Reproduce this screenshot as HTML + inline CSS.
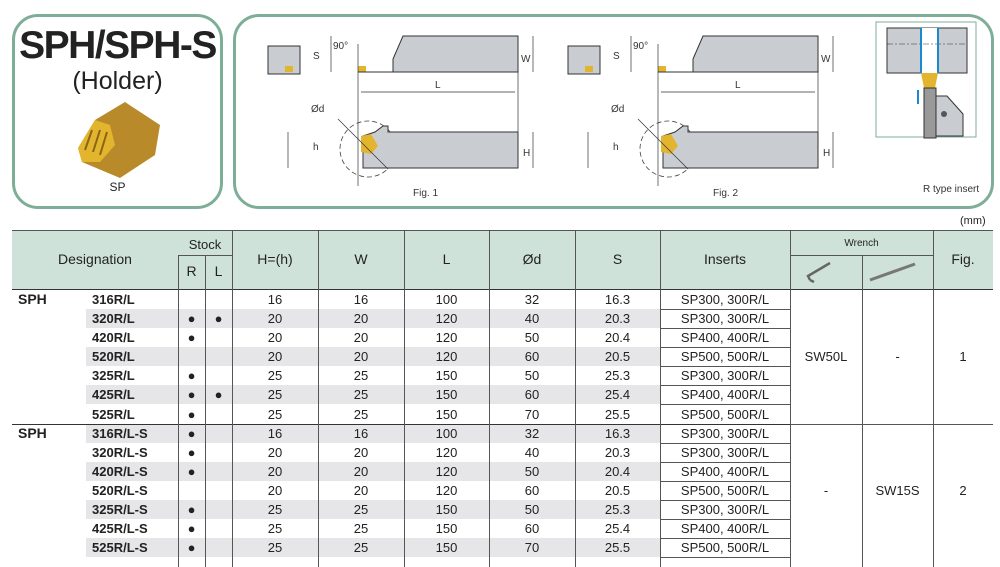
<!DOCTYPE html>
<html><head><meta charset="utf-8"><style>
*{margin:0;padding:0;box-sizing:border-box}
body{width:1000px;height:567px;background:#fff;position:relative;overflow:hidden;font-family:"Liberation Sans",Arial,sans-serif;color:#222}
.a{position:absolute}
.box{position:absolute;border:3px solid #7fae98;border-radius:26px}
.hd{position:absolute;background:#cfe2d9}
.c{position:absolute;text-align:center;font-size:13px;line-height:19px;white-space:nowrap}
.vl{position:absolute;width:1px;background:#555}
.hl{position:absolute;height:1px;background:#555}
.g{position:absolute;background:#e6e6e8;height:19px}
.d{font-weight:bold;font-size:14px}
</style></head><body>
<div class="box" style="left:12px;top:14px;width:211px;height:195px"></div>
<div class="a" style="left:12px;top:23px;width:211px;text-align:center;font-size:39px;font-weight:bold;letter-spacing:-1.5px;line-height:46px;white-space:nowrap">SPH/SPH-S</div>
<div class="a" style="left:12px;top:66px;width:211px;text-align:center;font-size:25px;line-height:30px">(Holder)</div>
<svg class="a" style="left:70px;top:100px" width="100" height="80">
<polygon points="8,48 25,20 55,2 90,25 85,55 50,78 12,62" fill="#b88a2a"/>
<polygon points="8,48 25,20 40,25 45,45 30,62 12,62" fill="#e3b52e"/>
<line x1="22" y1="30" x2="15" y2="50" stroke="#8a6515" stroke-width="2"/>
<line x1="30" y1="30" x2="23" y2="52" stroke="#8a6515" stroke-width="2"/>
<line x1="37" y1="32" x2="30" y2="55" stroke="#8a6515" stroke-width="2"/>
</svg>
<div class="a" style="left:12px;top:180px;width:211px;text-align:center;font-size:12px">SP</div>
<div class="box" style="left:233px;top:14px;width:761px;height:195px"></div>
<svg class="a" style="left:233px;top:14px" width="761" height="195" font-family="Liberation Sans" font-size="10" fill="#333">
<g id="f1">
<rect x="35" y="32" width="32" height="28" fill="#c9ccd1" stroke="#333"/><rect x="52" y="52" width="8" height="6" fill="#e3b52e"/>
<polygon points="160,58 160,45 170,22 285,22 285,58" fill="#c9ccd1" stroke="#333"/>
<rect x="125" y="52" width="8" height="6" fill="#e3b52e"/>
<line x1="125" y1="58" x2="160" y2="58" stroke="#333"/>
<line x1="125" y1="30" x2="125" y2="172" stroke="#333" stroke-width="0.7"/>
<line x1="285" y1="58" x2="285" y2="125" stroke="#333" stroke-width="0.7"/>
<line x1="98" y1="22" x2="98" y2="58" stroke="#333" stroke-width="0.7"/>
<line x1="300" y1="22" x2="300" y2="58" stroke="#333" stroke-width="0.7"/>
<line x1="300" y1="118" x2="300" y2="154" stroke="#333" stroke-width="0.7"/>
<line x1="55" y1="118" x2="55" y2="154" stroke="#333" stroke-width="0.7"/>
<text x="80" y="45">S</text><text x="100" y="35">90°</text><text x="288" y="48">W</text>
<line x1="128" y1="78" x2="282" y2="78" stroke="#333" stroke-width="0.7"/><text x="202" y="74">L</text>
<circle cx="135" cy="135" r="28" fill="none" stroke="#444" stroke-dasharray="5,3" stroke-width="0.8"/>
<polygon points="130,122 142,118 150,112 155,112 155,118 285,118 285,154 130,154" fill="#c9ccd1" stroke="#333"/>
<polygon points="128,122 138,120 145,132 138,140 128,138" fill="#e3b52e"/>
<line x1="105" y1="105" x2="155" y2="155" stroke="#333" stroke-width="0.7"/>
<text x="78" y="98">Ød</text><text x="80" y="136">h</text><text x="290" y="142">H</text>
</g>
<use href="#f1" x="300"/>
<text x="180" y="182">Fig. 1</text><text x="480" y="182">Fig. 2</text>
<rect x="643" y="8" width="100" height="115" fill="#fff" stroke="#7fae98"/>
<rect x="654" y="14" width="80" height="45" fill="#c9ccd1" stroke="#333"/>
<rect x="688" y="14" width="17" height="45" fill="#fff"/>
<line x1="654" y1="30" x2="734" y2="30" stroke="#333" stroke-width="0.6" stroke-dasharray="6,2,2,2"/>
<line x1="688" y1="14" x2="688" y2="59" stroke="#1a8ad0" stroke-width="2"/><line x1="705" y1="14" x2="705" y2="59" stroke="#1a8ad0" stroke-width="2"/>
<polygon points="688,59 705,59 702,74 691,74" fill="#e3b52e"/>
<rect x="691" y="74" width="12" height="50" fill="#999" stroke="#333"/>
<polygon points="703,82 714,82 730,100 730,122 703,122" fill="#c9ccd1" stroke="#333"/>
<circle cx="711" cy="100" r="3" fill="#555"/>
<line x1="685" y1="90" x2="685" y2="76" stroke="#1a8ad0" stroke-width="2"/>
<text x="690" y="178">R type insert</text>
</svg>
<div class="a" style="left:960px;top:215px;font-size:11px">(mm)</div>
<div class="hd" style="left:12px;top:230px;width:981px;height:59px"></div>
<div class="hl" style="left:12px;top:230px;width:981px"></div>
<div class="hl" style="left:12px;top:289px;width:981px;background:#333"></div>
<div class="hl" style="left:178px;top:255px;width:54px"></div>
<div class="hl" style="left:790px;top:255px;width:143px"></div>
<div class="c" style="left:12px;top:250px;width:166px;font-size:14px">Designation</div>
<div class="c" style="left:178px;top:235px;width:54px">Stock</div>
<div class="c" style="left:178px;top:262px;width:27px;font-size:14px">R</div>
<div class="c" style="left:205px;top:262px;width:27px;font-size:14px">L</div>
<div class="c" style="left:232px;top:250px;width:86px;font-size:14px">H=(h)</div>
<div class="c" style="left:318px;top:250px;width:86px;font-size:14px">W</div>
<div class="c" style="left:404px;top:250px;width:85px;font-size:14px">L</div>
<div class="c" style="left:489px;top:250px;width:86px;font-size:14px">Ød</div>
<div class="c" style="left:575px;top:250px;width:85px;font-size:14px">S</div>
<div class="c" style="left:660px;top:250px;width:130px;font-size:14px">Inserts</div>
<div class="c" style="left:790px;top:234px;width:143px;font-size:10px">Wrench</div>
<div class="c" style="left:933px;top:250px;width:60px;font-size:14px">Fig.</div>
<svg class="a" style="left:800px;top:258px" width="130" height="30"><path d="M10,22 L8,18 L30,5 M10,22 L14,24" stroke="#666" fill="none" stroke-width="2.5"/><path d="M70,22 L115,6" stroke="#777" stroke-width="3"/></svg>
<div class="g" style="left:86px;top:309px;width:574px"></div>
<div class="g" style="left:86px;top:347px;width:574px"></div>
<div class="g" style="left:86px;top:385px;width:574px"></div>
<div class="g" style="left:86px;top:424px;width:574px"></div>
<div class="g" style="left:86px;top:462px;width:574px"></div>
<div class="g" style="left:86px;top:500px;width:574px"></div>
<div class="g" style="left:86px;top:538px;width:574px"></div>
<div class="hl" style="left:12px;top:424px;width:778px;background:#333"></div>
<div class="hl" style="left:790px;top:424px;width:203px"></div>
<div class="vl" style="left:178px;top:255px;height:312px"></div>
<div class="vl" style="left:205px;top:255px;height:312px"></div>
<div class="vl" style="left:232px;top:230px;height:337px"></div>
<div class="vl" style="left:318px;top:230px;height:337px"></div>
<div class="vl" style="left:404px;top:230px;height:337px"></div>
<div class="vl" style="left:489px;top:230px;height:337px"></div>
<div class="vl" style="left:575px;top:230px;height:337px"></div>
<div class="vl" style="left:660px;top:230px;height:337px"></div>
<div class="vl" style="left:790px;top:230px;height:337px"></div>
<div class="vl" style="left:862px;top:255px;height:312px"></div>
<div class="vl" style="left:933px;top:230px;height:337px"></div>
<div class="hl" style="left:660px;top:309px;width:130px"></div><div class="hl" style="left:660px;top:328px;width:130px"></div>
<div class="hl" style="left:660px;top:347px;width:130px"></div><div class="hl" style="left:660px;top:366px;width:130px"></div>
<div class="hl" style="left:660px;top:385px;width:130px"></div><div class="hl" style="left:660px;top:404px;width:130px"></div>
<div class="hl" style="left:660px;top:443px;width:130px"></div><div class="hl" style="left:660px;top:462px;width:130px"></div>
<div class="hl" style="left:660px;top:481px;width:130px"></div><div class="hl" style="left:660px;top:500px;width:130px"></div>
<div class="hl" style="left:660px;top:519px;width:130px"></div><div class="hl" style="left:660px;top:538px;width:130px"></div>
<div class="hl" style="left:660px;top:557px;width:130px"></div>
<div class="c d" style="left:18px;top:290px">SPH</div>
<div class="c d" style="left:18px;top:424px">SPH</div>
<div class="c" style="left:790px;top:347px;width:72px">SW50L</div>
<div class="c" style="left:862px;top:347px;width:71px">-</div>
<div class="c" style="left:933px;top:347px;width:60px">1</div>
<div class="c" style="left:790px;top:481px;width:72px">-</div>
<div class="c" style="left:862px;top:481px;width:71px">SW15S</div>
<div class="c" style="left:933px;top:481px;width:60px">2</div>
<div style="position:absolute;left:0;top:290px">
<style>.r{position:relative;height:19.1px}.r div{position:absolute;text-align:center;font-size:13px;line-height:19px;top:0;white-space:nowrap}</style>
<div class="r"><div class="d" style="left:92px">316R/L</div><div style="left:232px;width:86px">16</div><div style="left:318px;width:86px">16</div><div style="left:404px;width:85px">100</div><div style="left:489px;width:86px">32</div><div style="left:575px;width:85px">16.3</div><div style="left:660px;width:130px">SP300, 300R/L</div></div>
<div class="r"><div class="d" style="left:92px">320R/L</div><div style="left:178px;width:27px">●</div><div style="left:205px;width:27px">●</div><div style="left:232px;width:86px">20</div><div style="left:318px;width:86px">20</div><div style="left:404px;width:85px">120</div><div style="left:489px;width:86px">40</div><div style="left:575px;width:85px">20.3</div><div style="left:660px;width:130px">SP300, 300R/L</div></div>
<div class="r"><div class="d" style="left:92px">420R/L</div><div style="left:178px;width:27px">●</div><div style="left:232px;width:86px">20</div><div style="left:318px;width:86px">20</div><div style="left:404px;width:85px">120</div><div style="left:489px;width:86px">50</div><div style="left:575px;width:85px">20.4</div><div style="left:660px;width:130px">SP400, 400R/L</div></div>
<div class="r"><div class="d" style="left:92px">520R/L</div><div style="left:232px;width:86px">20</div><div style="left:318px;width:86px">20</div><div style="left:404px;width:85px">120</div><div style="left:489px;width:86px">60</div><div style="left:575px;width:85px">20.5</div><div style="left:660px;width:130px">SP500, 500R/L</div></div>
<div class="r"><div class="d" style="left:92px">325R/L</div><div style="left:178px;width:27px">●</div><div style="left:232px;width:86px">25</div><div style="left:318px;width:86px">25</div><div style="left:404px;width:85px">150</div><div style="left:489px;width:86px">50</div><div style="left:575px;width:85px">25.3</div><div style="left:660px;width:130px">SP300, 300R/L</div></div>
<div class="r"><div class="d" style="left:92px">425R/L</div><div style="left:178px;width:27px">●</div><div style="left:205px;width:27px">●</div><div style="left:232px;width:86px">25</div><div style="left:318px;width:86px">25</div><div style="left:404px;width:85px">150</div><div style="left:489px;width:86px">60</div><div style="left:575px;width:85px">25.4</div><div style="left:660px;width:130px">SP400, 400R/L</div></div>
<div class="r"><div class="d" style="left:92px">525R/L</div><div style="left:178px;width:27px">●</div><div style="left:232px;width:86px">25</div><div style="left:318px;width:86px">25</div><div style="left:404px;width:85px">150</div><div style="left:489px;width:86px">70</div><div style="left:575px;width:85px">25.5</div><div style="left:660px;width:130px">SP500, 500R/L</div></div>
<div class="r"><div class="d" style="left:92px">316R/L-S</div><div style="left:178px;width:27px">●</div><div style="left:232px;width:86px">16</div><div style="left:318px;width:86px">16</div><div style="left:404px;width:85px">100</div><div style="left:489px;width:86px">32</div><div style="left:575px;width:85px">16.3</div><div style="left:660px;width:130px">SP300, 300R/L</div></div>
<div class="r"><div class="d" style="left:92px">320R/L-S</div><div style="left:178px;width:27px">●</div><div style="left:232px;width:86px">20</div><div style="left:318px;width:86px">20</div><div style="left:404px;width:85px">120</div><div style="left:489px;width:86px">40</div><div style="left:575px;width:85px">20.3</div><div style="left:660px;width:130px">SP300, 300R/L</div></div>
<div class="r"><div class="d" style="left:92px">420R/L-S</div><div style="left:178px;width:27px">●</div><div style="left:232px;width:86px">20</div><div style="left:318px;width:86px">20</div><div style="left:404px;width:85px">120</div><div style="left:489px;width:86px">50</div><div style="left:575px;width:85px">20.4</div><div style="left:660px;width:130px">SP400, 400R/L</div></div>
<div class="r"><div class="d" style="left:92px">520R/L-S</div><div style="left:232px;width:86px">20</div><div style="left:318px;width:86px">20</div><div style="left:404px;width:85px">120</div><div style="left:489px;width:86px">60</div><div style="left:575px;width:85px">20.5</div><div style="left:660px;width:130px">SP500, 500R/L</div></div>
<div class="r"><div class="d" style="left:92px">325R/L-S</div><div style="left:178px;width:27px">●</div><div style="left:232px;width:86px">25</div><div style="left:318px;width:86px">25</div><div style="left:404px;width:85px">150</div><div style="left:489px;width:86px">50</div><div style="left:575px;width:85px">25.3</div><div style="left:660px;width:130px">SP300, 300R/L</div></div>
<div class="r"><div class="d" style="left:92px">425R/L-S</div><div style="left:178px;width:27px">●</div><div style="left:232px;width:86px">25</div><div style="left:318px;width:86px">25</div><div style="left:404px;width:85px">150</div><div style="left:489px;width:86px">60</div><div style="left:575px;width:85px">25.4</div><div style="left:660px;width:130px">SP400, 400R/L</div></div>
<div class="r"><div class="d" style="left:92px">525R/L-S</div><div style="left:178px;width:27px">●</div><div style="left:232px;width:86px">25</div><div style="left:318px;width:86px">25</div><div style="left:404px;width:85px">150</div><div style="left:489px;width:86px">70</div><div style="left:575px;width:85px">25.5</div><div style="left:660px;width:130px">SP500, 500R/L</div></div>
</div>
</body></html>
